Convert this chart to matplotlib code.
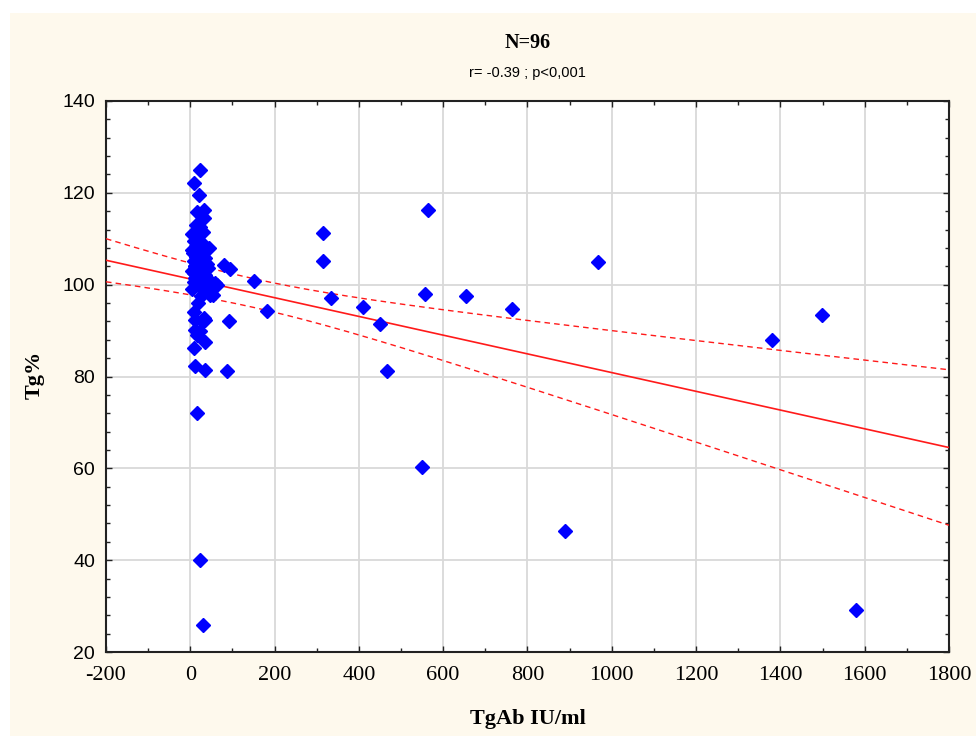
import numpy as np
import matplotlib.pyplot as plt
from matplotlib.patches import Rectangle
from matplotlib.ticker import MultipleLocator

plt.rcParams["axes.unicode_minus"] = False

# TgAb (IU/ml) and Tg% for the 96 patients
tgab = [24, 8, 21, 17, 32, 33, 24, 16, 8, 28, 12, 32, 8, 36, 19, 43, 51, 59, 63, 32,
        47, 36, 12, 32, 12, 16, 36, 8, 12, 34, 16, 23, 29, 5, 14, 20, 6, 25, 15, 10,
        28, 4, 22, 12, 35, 40, 8, 18, 27, 45, 5, 14, 24, 38, 10, 20, 30, 6, 16, 26,
        40, 10, 20, 4, 26, 18, 8, 30, 22, 14, 30, 9, 55, 42,
        79, 95, 93, 87, 152, 182, 316, 316, 334, 409, 449, 467, 549, 556, 565, 653,
        764, 890, 968, 1381, 1499, 1580]
tg_pct = [125.0, 122.1, 119.6, 115.9, 116.3, 114.5, 112.5, 110.9, 109.4, 109.1, 107.2, 107.2,
          105.1, 105.8, 103.3, 103.7, 100.4, 100.4, 100.0, 98.9, 97.8, 92.4, 92.4, 92.8,
          90.2, 89.1, 87.5, 86.2, 82.2, 81.5, 72.1, 40.1, 25.9, 111.0, 113.0, 108.0, 107.5,
          106.5, 106.0, 104.0, 104.5, 103.0, 102.0, 101.5, 102.0, 101.0, 100.5, 100.0, 100.8,
          108.0, 107.5, 106.0, 105.0, 104.5, 104.0, 103.0, 102.0, 107.0, 106.5, 105.5, 104.5,
          103.5, 102.0, 99.0, 97.5, 96.0, 94.0, 92.0, 90.0, 108.5, 111.5, 102.5, 97.8, 99.0,
          104.3, 103.4, 92.1, 81.3, 100.7, 94.2, 111.2, 105.1, 97.2, 95.2, 91.5, 81.2, 60.2,
          97.9, 116.2, 97.5, 94.8, 46.3, 105.0, 88.0, 93.3, 29.1]

x_ticks = [-200, 0, 200, 400, 600, 800, 1000, 1200, 1400, 1600, 1800]
y_ticks = [20, 40, 60, 80, 100, 120, 140]

x = np.array(tgab, dtype=float)
y = np.array(tg_pct, dtype=float)
n = len(x)

# linear fit and 95% confidence band of the mean
slope, intercept = np.polyfit(x, y, 1)
resid = y - (slope * x + intercept)
s = np.sqrt(np.sum(resid ** 2) / (n - 2))
sxx = np.sum((x - x.mean()) ** 2)
t_crit = 1.986
xs = np.linspace(-200, 1800, 200)
ys = slope * xs + intercept
half = t_crit * s * np.sqrt(1.0 / n + (xs - x.mean()) ** 2 / sxx)

fig = plt.figure(figsize=(9.76, 7.36), dpi=100)
fig.patch.set_facecolor("white")
fig.patches.append(Rectangle((10 / 976, 0), 1 - 10 / 976, 1 - 13 / 736,
                             transform=fig.transFigure, facecolor="#fef9ed",
                             edgecolor="none", zorder=-10))

ax = fig.add_axes([0.1086, 0.1141, 0.8637, 0.7487])
ax.set_facecolor("white")

ax.plot(xs, ys, color="#ff1a1a", lw=1.2, zorder=3)
ax.plot(xs, ys + half, color="#ff1a1a", lw=1.0, ls=(0, (4, 3)), zorder=3)
ax.plot(xs, ys - half, color="#ff1a1a", lw=1.0, ls=(0, (4, 3)), zorder=3)
ax.plot(x, y, "D", color="#0000ff", ms=7.2, mec="#0000ff", ls="none", zorder=4)

ax.set_xlim(-200, 1800)
ax.set_ylim(20, 140)
ax.set_xticks(x_ticks)
ax.set_yticks(y_ticks)
ax.xaxis.set_minor_locator(MultipleLocator(100))
ax.yaxis.set_minor_locator(MultipleLocator(4))
ax.grid(True, which="major", color="#d9d9d9", lw=1.3)
ax.set_axisbelow(True)

ax.tick_params(which="both", direction="in", top=True, right=True, color="#222222")
ax.tick_params(which="major", length=4, width=1)
ax.tick_params(which="minor", length=3, width=1)
ax.tick_params(axis="x", pad=10)
ax.tick_params(axis="y", pad=8)
for lab in ax.get_xticklabels():
    lab.set_fontfamily("Liberation Serif")
    lab.set_fontsize(16)
for lab in ax.get_yticklabels():
    lab.set_fontfamily("Liberation Sans")
    lab.set_fontsize(14)
for sp in ax.spines.values():
    sp.set_color("#222222")
    sp.set_linewidth(1.5)

cx = 0.1086 + 0.8637 / 2
fig.text(cx, 0.9416, "N=96", ha="center", va="center", fontsize=14.5,
         fontweight="bold", family="Liberation Serif")
fig.text(cx, 0.9008, "r= -0.39 ; p<0,001", ha="center", va="center", fontsize=10.5,
         family="Liberation Sans")
fig.text(cx, 0.0231, "TgAb IU/ml", ha="center", va="center", fontsize=16,
         fontweight="bold", family="Liberation Serif")
fig.text(0.0359, 0.4905, "Tg%", ha="center", va="center", fontsize=16,
         fontweight="bold", family="Liberation Serif", rotation=90)

fig.savefig("out.png", dpi=100, facecolor=fig.get_facecolor())
